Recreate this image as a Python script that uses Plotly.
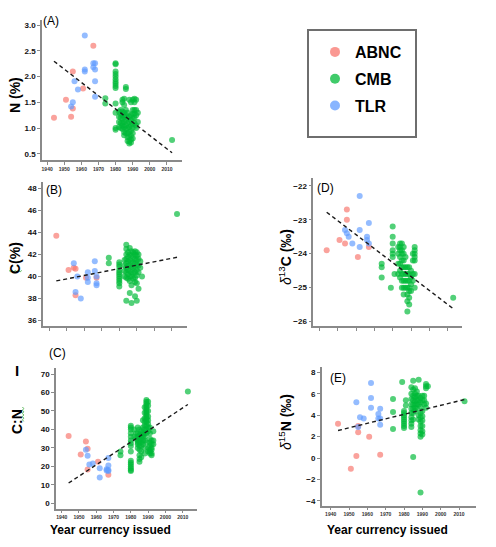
import plotly.graph_objects as go

# Reference canvas size; the page body adds an 8px margin, so the figure is
# drawn 8px smaller and every pixel position is shifted by that offset.
REF_W, REF_H = 496, 547
OFF = 8
W, H = REF_W - OFF, REF_H - OFF

# ---------------- data (year currency issued, value) ----------------
FIT_YEAR = [1944, 2013]

A_ABNC = [(1944, 1.20), (1951, 1.55), (1954, 1.22), (1955, 2.10), (1955, 1.38), (1961, 1.77), (1967, 2.60)]
A_TLR = [(1954, 1.42), (1955, 1.50), (1956, 1.91), (1958, 1.75), (1962, 2.80), (1962, 2.14), (1962, 2.10),
         (1967, 2.26), (1968, 2.26), (1967, 2.18), (1968, 2.14), (1968, 1.91), (1968, 1.61)]
A_CMB = [(1974, 1.58), (1974, 1.48),
         (1980, 2.26), (1980, 2.24), (1980, 2.10), (1980, 2.05), (1980, 2.00), (1980, 1.95), (1980, 1.90),
         (1980, 1.86), (1980, 1.82), (1980, 1.78), (1980, 1.48), (1980, 1.30), (1980, 1.00), (1980, 0.97),
         (1982, 1.32), (1982, 1.22), (1982, 1.12), (1982, 1.02),
         (1983, 1.35), (1983, 1.28), (1983, 1.20), (1983, 1.10), (1983, 1.00),
         (1984, 1.55), (1984, 1.50), (1984, 1.32), (1984, 1.25), (1984, 1.18), (1984, 1.10), (1984, 1.05), (1984, 0.98),
         (1985, 1.57), (1985, 1.45), (1985, 1.30), (1985, 1.22), (1985, 1.12), (1985, 1.02), (1985, 0.92), (1985, 0.86),
         (1986, 1.80), (1986, 1.76), (1986, 1.35), (1986, 1.25), (1986, 1.15), (1986, 1.05), (1986, 0.98), (1986, 0.90),
         (1987, 1.30), (1987, 1.20), (1987, 1.10), (1987, 1.00), (1987, 0.90), (1987, 0.82), (1987, 0.75),
         (1988, 1.55), (1988, 1.22), (1988, 1.12), (1988, 1.02), (1988, 0.92), (1988, 0.82), (1988, 0.74), (1988, 0.70),
         (1989, 1.50), (1989, 1.25), (1989, 1.15), (1989, 1.05), (1989, 0.95), (1989, 0.85), (1989, 0.78), (1989, 0.72),
         (1990, 1.55), (1990, 1.35), (1990, 1.28), (1990, 1.18), (1990, 1.08), (1990, 1.00), (1990, 0.90), (1990, 0.80),
         (1991, 1.57), (1991, 1.50), (1991, 1.35), (1991, 1.28), (1991, 1.20), (1991, 1.10),
         (1992, 1.55), (1992, 1.35), (1992, 1.25), (1992, 1.05), (1992, 1.00),
         (1993, 1.30), (1993, 1.12),
         (2013, 0.77)]
A_FIT = [2.30, 0.52]

B_ABNC = [(1944, 43.7), (1951, 40.6), (1954, 40.8), (1955, 40.7), (1955, 38.3), (1961, 39.9), (1967, 39.9)]
B_TLR = [(1954, 41.2), (1956, 40.0), (1955, 38.6), (1958, 38.0), (1962, 40.4), (1962, 39.9), (1962, 39.5),
         (1966, 41.4), (1966, 40.5), (1967, 40.0), (1967, 39.4), (1967, 39.2)]
B_CMB = [(1974, 41.7), (1974, 41.2),
         (1980, 41.3), (1980, 41.1), (1980, 40.9), (1980, 40.6), (1980, 40.4), (1980, 40.2), (1980, 40.0),
         (1980, 39.8), (1980, 39.6), (1980, 39.4), (1980, 39.1),
         (1983, 41.5), (1983, 41.0), (1983, 40.5), (1983, 40.0),
         (1984, 42.9), (1984, 42.5), (1984, 42.0), (1984, 41.6), (1984, 41.2), (1984, 40.8), (1984, 40.4), (1984, 39.9), (1984, 37.8),
         (1985, 42.2), (1985, 41.8), (1985, 41.4), (1985, 41.0), (1985, 40.6), (1985, 40.2), (1985, 39.8),
         (1986, 42.6), (1986, 42.0), (1986, 41.5), (1986, 41.0), (1986, 40.5), (1986, 40.0), (1986, 39.6), (1986, 38.5),
         (1987, 42.3), (1987, 41.9), (1987, 41.4), (1987, 40.9), (1987, 40.4), (1987, 40.0), (1987, 39.2), (1987, 37.6),
         (1988, 42.2), (1988, 41.8), (1988, 41.3), (1988, 40.8), (1988, 40.3), (1988, 39.8),
         (1989, 42.3), (1989, 42.0), (1989, 41.6), (1989, 41.2), (1989, 40.8), (1989, 40.4), (1989, 39.9), (1989, 39.5), (1989, 38.2),
         (1990, 42.2), (1990, 41.9), (1990, 41.5), (1990, 41.1), (1990, 40.6), (1990, 40.1), (1990, 39.4), (1990, 37.8),
         (1991, 42.0), (1991, 41.6), (1991, 41.0), (1991, 40.4), (1991, 38.9),
         (1992, 41.4), (1992, 40.8),
         (1993, 40.0),
         (2013, 45.7)]
B_FIT = [39.6, 41.75]

C_ABNC = [(1944, 36.5), (1951, 26.5), (1954, 33.5), (1955, 29.5), (1955, 18.3), (1961, 22.5), (1967, 15.5)]
C_TLR = [(1954, 29.0), (1955, 25.8), (1956, 21.0), (1958, 21.5), (1962, 19.0), (1962, 14.0),
         (1966, 18.5), (1967, 18.0), (1966, 17.8), (1967, 17.5), (1967, 20.5), (1967, 24.5)]
C_CMB = [(1974, 28), (1974, 26),
         (1980, 42), (1980, 41), (1980, 40), (1980, 38), (1980, 36), (1980, 34), (1980, 32.5), (1980, 31), (1980, 28),
         (1980, 23), (1980, 22), (1980, 21), (1980, 20), (1980, 19), (1980, 18), (1980, 17.5),
         (1982, 40), (1982, 36), (1983, 38), (1983, 35),
         (1984, 41), (1984, 38), (1984, 36), (1984, 34), (1984, 33), (1984, 32), (1984, 30),
         (1985, 40), (1985, 37), (1985, 35), (1985, 34), (1985, 33), (1985, 31), (1985, 29), (1985, 26), (1985, 24), (1985, 22.5),
         (1986, 39), (1986, 37), (1986, 36), (1986, 35), (1986, 33), (1986, 31), (1986, 28), (1986, 25),
         (1987, 45), (1987, 41), (1987, 38), (1987, 37), (1987, 36), (1987, 34), (1987, 32),
         (1988, 52), (1988, 49), (1988, 46), (1988, 44), (1988, 42), (1988, 40), (1988, 38), (1988, 36), (1988, 34), (1988, 30), (1988, 27),
         (1989, 56), (1989, 55), (1989, 54), (1989, 53), (1989, 52), (1989, 51), (1989, 50), (1989, 49), (1989, 48),
         (1989, 47), (1989, 46), (1989, 45), (1989, 44), (1989, 42), (1989, 40), (1989, 38), (1989, 33),
         (1990, 55), (1990, 53), (1990, 50), (1990, 47), (1990, 45), (1990, 43), (1990, 41), (1990, 39), (1990, 30), (1990, 28),
         (1991, 41), (1991, 38), (1991, 35), (1991, 33), (1991, 31), (1991, 29), (1991, 28), (1991, 27),
         (1992, 34), (1992, 32), (1992, 30), (1992, 29), (1992, 27), (1992, 26),
         (1993, 39), (1993, 34), (1993, 32),
         (2013, 60.5)]
C_FIT = [11.0, 53.5]

D_ABNC = [(1944, -23.9), (1951, -23.6), (1954, -23.7), (1955, -22.7), (1955, -23.0), (1961, -24.1), (1967, -23.8)]
D_TLR = [(1954, -23.3), (1955, -23.4), (1956, -23.5), (1958, -23.7), (1962, -22.3), (1962, -23.3), (1962, -23.8),
         (1966, -23.5), (1966, -23.6), (1967, -23.7), (1967, -23.1)]
D_CMB = [(1974, -24.3), (1974, -24.4), (1974, -24.7), (1979, -25.0),
         (1980, -23.2), (1980, -23.5), (1980, -23.7), (1980, -23.9), (1980, -24.0), (1980, -24.1), (1981, -24.6),
         (1983, -23.8), (1983, -24.0), (1983, -24.3), (1983, -24.6),
         (1984, -23.7), (1984, -23.8), (1984, -23.9), (1984, -24.1), (1984, -24.3), (1984, -24.5), (1984, -24.7),
         (1985, -23.7), (1985, -23.9), (1985, -24.0), (1985, -24.2), (1985, -24.4), (1985, -24.6), (1985, -24.8), (1985, -25.0),
         (1986, -23.8), (1986, -24.0), (1986, -24.2), (1986, -24.4), (1986, -24.6), (1986, -24.8), (1986, -25.0), (1986, -25.2),
         (1987, -24.1), (1987, -24.4), (1987, -24.6), (1987, -24.8), (1987, -25.0),
         (1988, -24.4), (1988, -24.6), (1988, -24.8), (1988, -25.0), (1988, -25.2), (1988, -25.4), (1988, -25.7),
         (1989, -24.4), (1989, -24.6), (1989, -24.8), (1989, -25.0), (1989, -25.1), (1989, -25.3), (1989, -25.5),
         (1990, -24.5), (1990, -24.7), (1990, -24.9), (1990, -25.1),
         (1991, -24.0), (1991, -24.2), (1991, -24.6), (1991, -24.8),
         (1992, -23.8), (1992, -23.9), (1992, -24.0), (1992, -24.1), (1992, -24.2), (1992, -24.6), (1992, -25.0),
         (2013, -25.3)]
D_FIT = [-22.78, -25.62]

E_ABNC = [(1944, 3.2), (1951, -1.0), (1954, 0.2), (1955, 2.4), (1955, 3.0), (1961, 2.0), (1967, 0.3)]
E_TLR = [(1954, 5.2), (1955, 2.9), (1956, 3.8), (1958, 3.7), (1962, 7.0), (1962, 5.6), (1962, 4.7),
         (1966, 4.1), (1966, 3.7), (1967, 4.6), (1967, 3.7), (1967, 3.1)]
E_CMB = [(1974, 5.5), (1974, 4.3), (1974, 2.7), (1979, 7.1),
         (1980, 4.4), (1980, 4.2), (1980, 4.0), (1980, 3.8), (1980, 3.6), (1980, 3.4), (1980, 3.2), (1980, 3.0), (1980, 2.8),
         (1981, 5.4), (1981, 4.9),
         (1984, 6.6), (1984, 6.0), (1984, 5.5), (1984, 5.0), (1984, 4.6), (1984, 4.2), (1984, 3.8), (1984, 3.5), (1984, 3.2), (1984, 2.9),
         (1985, 7.2), (1985, 6.4), (1985, 5.8), (1985, 5.4), (1985, 5.0), (1985, 4.6), (1985, 4.2), (1985, 3.6), (1985, 0.1),
         (1986, 6.5), (1986, 6.0), (1986, 5.7), (1986, 5.3), (1986, 5.0), (1986, 4.7), (1986, 4.4),
         (1987, 6.2), (1987, 5.8), (1987, 5.4), (1987, 5.0), (1987, 4.6),
         (1988, 7.3), (1988, 5.8), (1988, 5.4), (1988, 5.0), (1988, 4.0), (1988, 3.6),
         (1989, 5.6), (1989, 5.2), (1989, 4.8), (1989, 4.2), (1989, 3.8), (1989, 3.4), (1989, 3.0), (1989, 2.6), (1989, 2.3), (1989, 2.0), (1989, -3.2),
         (1990, 5.8), (1990, 5.4), (1990, 4.4), (1990, 3.9), (1990, 3.5), (1990, 3.0), (1990, 2.5), (1990, 2.2),
         (1991, 5.8), (1991, 5.4), (1991, 5.0),
         (1992, 6.9), (1992, 6.7), (1992, 6.5), (1992, 5.1), (1992, 4.7),
         (1993, 6.7),
         (2013, 5.3)]
E_FIT = [2.57, 5.46]

GROUPS = ["ABNC", "CMB", "TLR"]
COLORS = {"ABNC": "#F8766D", "CMB": "#00BA38", "TLR": "#619CFF"}
X_TICKS = [1940, 1950, 1960, 1970, 1980, 1990, 2000, 2010]

# panel geometry in reference pixels: left, right, top, bottom ; ranges
PANELS = [
    dict(data=(A_ABNC, A_CMB, A_TLR), fit=A_FIT, box=(42, 182, 20, 160),
         xr=[1937.0, 2018.8], yr=[0.38, 3.10], yt=[0.5, 1.0, 1.5, 2.0, 2.5, 3.0], yfmt=".1f", xlab=True),
    dict(data=(B_ABNC, B_CMB, B_TLR), fit=B_FIT, box=(43, 187, 182, 326),
         xr=[1936.4, 2018.7], yr=[35.5, 48.6], yt=[36, 38, 40, 42, 44, 46, 48], yfmt="d", xlab=False),
    dict(data=(C_ABNC, C_CMB, C_TLR), fit=C_FIT, box=(56, 196.7, 368.3, 508.7),
         xr=[1936.7, 2018.1], yr=[-2.9, 73.1], yt=[0, 10, 20, 30, 40, 50, 60, 70], yfmt="d", xlab=True),
    dict(data=(D_ABNC, D_CMB, D_TLR), fit=D_FIT, box=(313.3, 462, 178.3, 326),
         xr=[1936.7, 2017.8], yr=[-26.13, -21.78], yt=[-26, -25, -24, -23, -22], yfmt="d", xlab=False),
    dict(data=(E_ABNC, E_CMB, E_TLR), fit=E_FIT, box=(321.7, 475.7, 366.7, 505.7),
         xr=[1935.1, 2019.1], yr=[-4.44, 8.52], yt=[-4, -2, 0, 2, 4, 6, 8], yfmt="d", xlab=True),
]

FONT = "Liberation Sans"
AXCOL = "#8a8a8a"


def fx(x):
    return (x - OFF) / W


def fy(y):
    return 1 - (y - OFF) / H


fig = go.Figure()
layout = {}

for i, p in enumerate(PANELS):
    n = "" if i == 0 else str(i + 1)
    l, r, t, b = p["box"]
    layout["xaxis" + n] = dict(
        domain=[fx(l), fx(r)], range=p["xr"], anchor="y" + n,
        showgrid=False, zeroline=False, showline=True, linecolor=AXCOL, linewidth=1.5,
        ticks="outside", ticklen=3, tickwidth=1, tickcolor=AXCOL,
        tickvals=X_TICKS, showticklabels=p["xlab"],
        tickfont=dict(family=FONT, size=5, color="#333333", weight="bold"),
    )
    layout["yaxis" + n] = dict(
        domain=[fy(b), fy(t)], range=p["yr"], anchor="x" + n,
        showgrid=False, zeroline=False, showline=True, linecolor=AXCOL, linewidth=1.5,
        ticks="outside", ticklen=3, tickwidth=1, tickcolor=AXCOL,
        tickvals=p["yt"], tickformat=p["yfmt"],
        tickfont=dict(family=FONT, size=8, color="#111111", weight="bold"),
    )
    for g, pts in zip(GROUPS, p["data"]):
        fig.add_trace(go.Scatter(
            x=[q[0] for q in pts], y=[q[1] for q in pts], mode="markers",
            marker=dict(size=6, color=COLORS[g], opacity=0.68, line=dict(width=0)),
            xaxis="x" + n, yaxis="y" + n, showlegend=False, hoverinfo="skip"))
    fig.add_trace(go.Scatter(
        x=FIT_YEAR, y=p["fit"], mode="lines",
        line=dict(color="#1a1a1a", width=1.4, dash="4px,3px"),
        xaxis="x" + n, yaxis="y" + n, showlegend=False, hoverinfo="skip"))

# legend entries
for g in GROUPS:
    fig.add_trace(go.Scatter(
        x=[None], y=[None], mode="markers", name=g, legendgroup=g,
        marker=dict(size=10, color=COLORS[g], opacity=0.75),
        xaxis="x", yaxis="y", showlegend=True))

annotations = []


def text(s, x, y, size, bold=False, angle=0, xanchor="center", yanchor="middle", color="#000000"):
    annotations.append(dict(
        text=s, x=fx(x), y=fy(y), xref="paper", yref="paper", showarrow=False,
        xanchor=xanchor, yanchor=yanchor, textangle=angle,
        font=dict(family=FONT, size=size, color=color, weight="bold" if bold else "normal")))


# panel letters
text("(A)", 41, 21, 12, xanchor="left")
text("(B)", 44, 190, 12, xanchor="left")
text("(C)", 47, 353, 12, xanchor="left")
text("(D)", 315, 188, 12, xanchor="left")
text("(E)", 328, 378, 12, xanchor="left")

# axis titles
text("N (%)", 15, 95, 14, bold=True, angle=-90)
text("C(%)", 15, 258, 14, bold=True, angle=-90)
text("C:N", 17, 422, 14, bold=True, angle=-90)
text("<i>δ</i><sup>13</sup><b>C (‰)</b>", 285, 257, 14, angle=-90)
text("<i>δ</i><sup>15</sup><b>N (‰)</b>", 285, 422, 14, angle=-90)
text("Year currency issued", 110, 530, 12, bold=True)
text("Year currency issued", 387, 530, 12, bold=True)
text("I", 17, 370, 15, bold=True)


def squiggle(x0, y0, length, vertical=False, step=1.6, amp=1.2):
    pts = []
    k = 0
    s = 0.0
    while s <= length:
        off = amp if k % 2 else 0.0
        if vertical:
            pts.append((fx(x0 + off), fy(y0 + s)))
        else:
            pts.append((fx(x0 + s), fy(y0 + off)))
        s += step
        k += 1
    path = "M " + " L ".join(f"{a:.5f},{b:.5f}" for a, b in pts)
    return dict(type="path", path=path, xref="paper", yref="paper",
                line=dict(color="#5cb85c", width=1))


shapes = [
    dict(type="rect", xref="paper", yref="paper", x0=fx(308), x1=fx(416), y0=fy(137), y1=fy(30),
         line=dict(color="#6e6e6e", width=2), fillcolor="rgba(0,0,0,0)"),
    squiggle(9, 270.5, 13),
    squiggle(22.5, 407, 15, vertical=True),
]

fig.update_layout(
    width=W, height=H, margin=dict(l=0, r=0, t=0, b=0),
    paper_bgcolor="white", plot_bgcolor="white",
    showlegend=True,
    legend=dict(x=fx(315), y=fy(35), xanchor="left", yanchor="top",
                bgcolor="rgba(0,0,0,0)", borderwidth=0, tracegroupgap=3,
                font=dict(family=FONT, size=16, color="#000000", weight="bold")),
    annotations=annotations, shapes=shapes,
    **layout,
)

fig.write_html("out.html")
